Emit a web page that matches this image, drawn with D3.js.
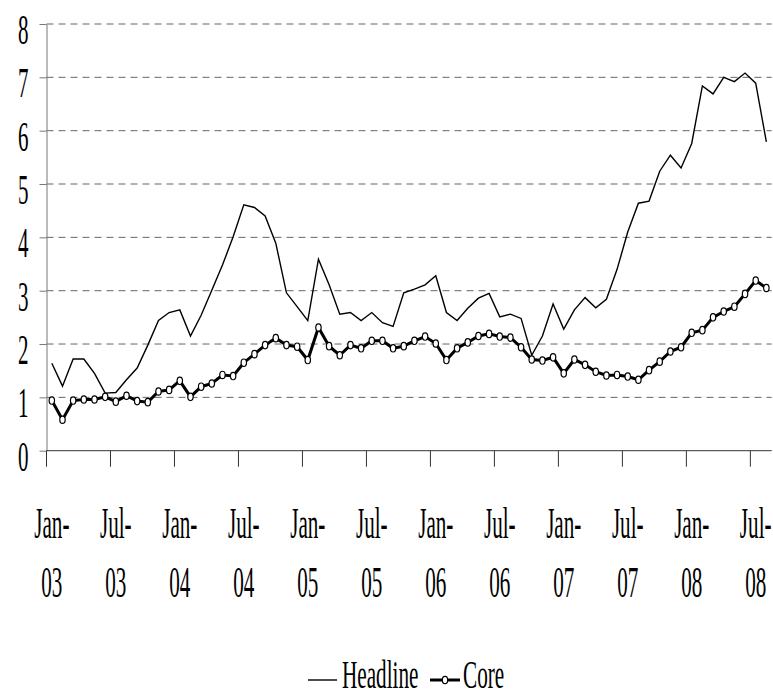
<!DOCTYPE html>
<html>
<head>
<meta charset="utf-8">
<script src="https://cdn.jsdelivr.net/npm/d3@7"></script>
<style>
  body { margin: 0; background: #fff; }
  svg { display: block; }
  text { font-family: "Liberation Serif", "Times New Roman", serif; fill: #000; }
</style>
</head>
<body>
<svg id="chart" width="773" height="697"></svg>
<script>
// monthly categories Jan-03 .. Aug-08
const months = d3.timeMonths(new Date(2003, 0, 1), new Date(2008, 8, 1));
const tickLabels = [["Jan-", "03"], ["Jul-", "03"], ["Jan-", "04"], ["Jul-", "04"],
  ["Jan-", "05"], ["Jul-", "05"], ["Jan-", "06"], ["Jul-", "06"],
  ["Jan-", "07"], ["Jul-", "07"], ["Jan-", "08"], ["Jul-", "08"]];
const yTicks = [0, 1, 2, 3, 4, 5, 6, 7, 8];

const headline = [
  1.64, 1.21, 1.72, 1.72, 1.45, 1.08, 1.09, 1.33, 1.55, 1.98,
  2.44, 2.59, 2.64, 2.15, 2.54, 3.01, 3.48, 4.01, 4.61, 4.56,
  4.40, 3.89, 2.96, 2.70, 2.44, 3.59, 3.11, 2.56, 2.59, 2.44,
  2.59, 2.40, 2.33, 2.96, 3.03, 3.11, 3.28, 2.59, 2.44, 2.67,
  2.86, 2.95, 2.51, 2.56, 2.48, 1.79, 2.15, 2.75, 2.28, 2.64,
  2.87, 2.68, 2.84, 3.40, 4.10, 4.64, 4.68, 5.24, 5.54, 5.30,
  5.76, 6.84, 6.69, 7.00, 6.92, 7.08, 6.89, 5.79
];
const core = [
  0.94, 0.58, 0.94, 0.96, 0.96, 1.01, 0.92, 1.03, 0.93, 0.91,
  1.11, 1.14, 1.31, 1.01, 1.20, 1.26, 1.42, 1.40, 1.65, 1.81,
  1.98, 2.11, 1.98, 1.95, 1.70, 2.31, 1.96, 1.79, 1.98, 1.92,
  2.06, 2.06, 1.92, 1.96, 2.06, 2.14, 2.01, 1.70, 1.92, 2.03,
  2.15, 2.19, 2.14, 2.12, 1.94, 1.71, 1.69, 1.75, 1.45, 1.71,
  1.61, 1.48, 1.41, 1.42, 1.39, 1.33, 1.51, 1.67, 1.86, 1.94,
  2.21, 2.26, 2.50, 2.61, 2.70, 2.94, 3.19, 3.05
];

const svg = d3.select("#chart");
const plotLeft = 46.5, plotRight = 771.7, plotTop = 24, plotBottom = 450.7;
// narrow, tall serif lettering: font size and horizontal squeeze
const yFont = 42, ySq = 0.5;
const xFont = 44, xSq = 0.48;
const lgFont = 40, lgSq = 0.53;

const x = d3.scaleBand()
  .domain(d3.range(months.length))
  .range([plotLeft, plotRight]);

const y = d3.scaleLinear()
  .domain([0, 8])
  .range([plotBottom, plotTop]);

// dashed gridlines
svg.append("g")
  .selectAll("line")
  .data(yTicks.filter(d => d > 0))
  .join("line")
  .attr("x1", plotLeft)
  .attr("x2", plotRight)
  .attr("y1", d => y(d))
  .attr("y2", d => y(d))
  .attr("stroke", "#666")
  .attr("stroke-width", 1)
  .attr("stroke-dasharray", "7,5");

// y axis
const yAxis = svg.append("g")
  .attr("transform", `translate(${plotLeft},0)`)
  .call(d3.axisLeft(y).tickValues(yTicks).tickSize(7).tickSizeOuter(0));
yAxis.select(".domain").attr("stroke", "#777");
yAxis.selectAll(".tick line").attr("stroke", "#777");
yAxis.selectAll(".tick text")
  .attr("x", null)
  .attr("dy", null)
  .attr("font-size", yFont)
  .attr("font-family", "Liberation Serif")
  .attr("text-anchor", "end")
  .attr("transform", `translate(-18,19.5) scale(${ySq},1)`);

// x axis line and tick marks at band edges every 6 months
svg.append("line")
  .attr("x1", plotLeft).attr("x2", plotRight)
  .attr("y1", plotBottom).attr("y2", plotBottom)
  .attr("stroke", "#333");

const tickIdx = d3.range(0, months.length, 6);
svg.append("g")
  .selectAll("line")
  .data(tickIdx)
  .join("line")
  .attr("x1", d => x(d)).attr("x2", d => x(d))
  .attr("y1", plotBottom).attr("y2", plotBottom + 16)
  .attr("stroke", "#333");

const xl = svg.append("g")
  .selectAll("g")
  .data(tickIdx)
  .join("g");
xl.append("text")
  .attr("text-anchor", "middle")
  .attr("font-size", xFont)
  .attr("transform", d => `translate(${x(d) + x.bandwidth() / 2},538) scale(${xSq},1)`)
  .text((d, i) => tickLabels[i][0]);
xl.append("text")
  .attr("text-anchor", "middle")
  .attr("font-size", xFont)
  .attr("transform", d => `translate(${x(d) + x.bandwidth() / 2},597) scale(${xSq},1)`)
  .text((d, i) => tickLabels[i][1]);

const cx = i => x(i) + x.bandwidth() / 2;
const line = d3.line().x((d, i) => cx(i)).y(d => y(d));

svg.append("path")
  .attr("d", line(headline))
  .attr("fill", "none")
  .attr("stroke", "#000")
  .attr("stroke-width", 1.4);

svg.append("path")
  .attr("d", line(core))
  .attr("fill", "none")
  .attr("stroke", "#000")
  .attr("stroke-width", 3);

svg.append("g")
  .selectAll("ellipse")
  .data(core)
  .join("ellipse")
  .attr("cx", (d, i) => cx(i))
  .attr("cy", d => y(d))
  .attr("rx", 2.7)
  .attr("ry", 3.7)
  .attr("fill", "#fff")
  .attr("stroke", "#000")
  .attr("stroke-width", 1.2);

// legend
const lg = svg.append("g");
lg.append("line")
  .attr("x1", 308).attr("x2", 337)
  .attr("y1", 680).attr("y2", 680)
  .attr("stroke", "#000").attr("stroke-width", 1.4);
lg.append("text")
  .attr("font-size", lgFont)
  .attr("transform", `translate(342,688) scale(${lgSq},1)`)
  .text("Headline");
lg.append("line")
  .attr("x1", 430).attr("x2", 460)
  .attr("y1", 680).attr("y2", 680)
  .attr("stroke", "#000").attr("stroke-width", 3);
lg.append("ellipse")
  .attr("cx", 445).attr("cy", 680)
  .attr("rx", 2.7).attr("ry", 3.7)
  .attr("fill", "#fff").attr("stroke", "#000").attr("stroke-width", 1.2);
lg.append("text")
  .attr("font-size", lgFont)
  .attr("transform", `translate(463,688) scale(${lgSq},1)`)
  .text("Core");
</script>
</body>
</html>
